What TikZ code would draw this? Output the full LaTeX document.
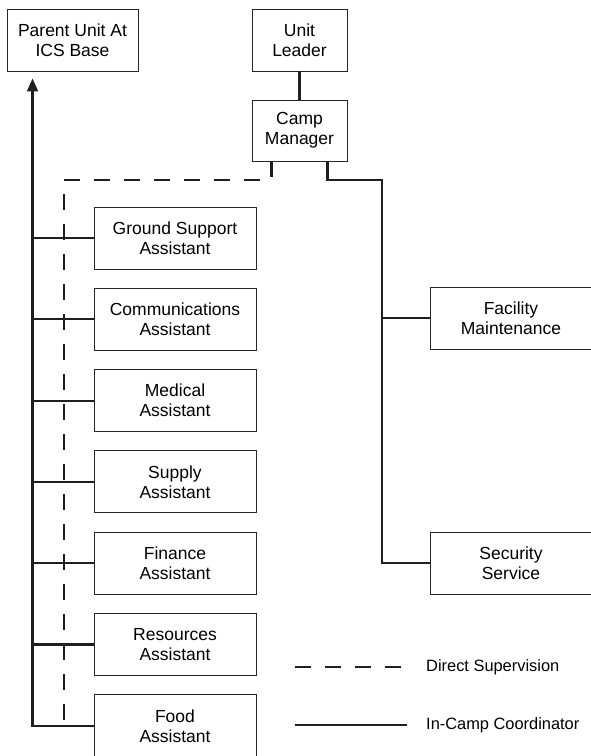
\documentclass[tikz,border=0pt]{standalone}
\usepackage{fontspec}
\setmainfont{Liberation Sans}
\usepackage{tikz}
\usetikzlibrary{positioning, arrows.meta}
\tikzstyle{unit} = [rectangle, minimum width=162pt, minimum height=62pt, text centered, align=center, draw=black!85, line width=0.9pt, font=\fontsize{17.5}{20}\selectfont]
\tikzstyle{link} = [line width=2.2pt, draw=black!88]
\tikzstyle{arrow} = [line width=2.2pt, draw=black!88, -{Triangle[length=13pt,width=11pt]}]
\tikzstyle{supervise} = [line width=2.2pt, draw=black!88, dash pattern=on 16pt off 14pt]
\tikzstyle{key} = [anchor=west, inner sep=0pt, font=\fontsize{16.4}{19}\selectfont]

\begin{document}
\begin{tikzpicture}[x=1pt, y=-1pt, node distance=81.3pt]
        \useasboundingbox (0,0) rectangle (591,756);

        \node (parent) [unit, minimum width=131pt] at (72.5,40) {Parent Unit At\\ICS Base};
        \node (leader) [unit, minimum width=95pt] at (299.5,40) {Unit\\Leader};
        \node (manager) [unit, minimum width=95pt, minimum height=61pt] at (299.5,130.5) {Camp\\Manager};

        \node (ground) [unit] at (175,238) {Ground Support\\Assistant};
        \node (comms) [unit, below of=ground] {Communications\\Assistant};
        \node (medical) [unit, below of=comms] {Medical\\Assistant};
        \node (supply) [unit, below of=medical] {Supply\\Assistant};
        \node (finance) [unit, below of=supply] {Finance\\Assistant};
        \node (resources) [unit, below of=finance] {Resources\\Assistant};
        \node (food) [unit, below of=resources] {Food\\Assistant};

        \node (facility) [unit] at (511,318) {Facility\\Maintenance};
        \node (security) [unit] at (511,563) {Security\\Service};

        \coordinate (trunk) at ([xshift=26pt]parent.south west);
        \coordinate (dturn) at (64,180);
        \coordinate (dend) at (64,726);
        \coordinate (sturn) at (382,180);

        \draw [link] (leader) -- (manager);
        \draw [supervise] ([xshift=-28pt]manager.south) |- (dturn) -- (dend);
        \draw [link] ([xshift=28pt]manager.south) |- (sturn) |- (security.west);
        \draw [link] (facility.west) -- (facility.west -| sturn);

        \draw [arrow, shorten >=7pt] (food.west) -| (trunk);
        \foreach \n in {ground, comms, medical, supply, finance, resources}
                \draw [link] (\n.west) -- (\n.west -| trunk);

        % legend
        \coordinate (dashA) at (295,667);
        \coordinate (dashB) at (407,667);
        \coordinate (lineA) at (295,725);
        \coordinate (lineB) at (407,725);
        \draw [supervise] (dashA) -- (dashB);
        \draw [link] (lineA) -- (lineB);
        \node (dashtext) [key] at (426,667) {Direct Supervision};
        \node (linetext) [key] at (426,725) {In-Camp Coordinator};

\end{tikzpicture}
\end{document}
